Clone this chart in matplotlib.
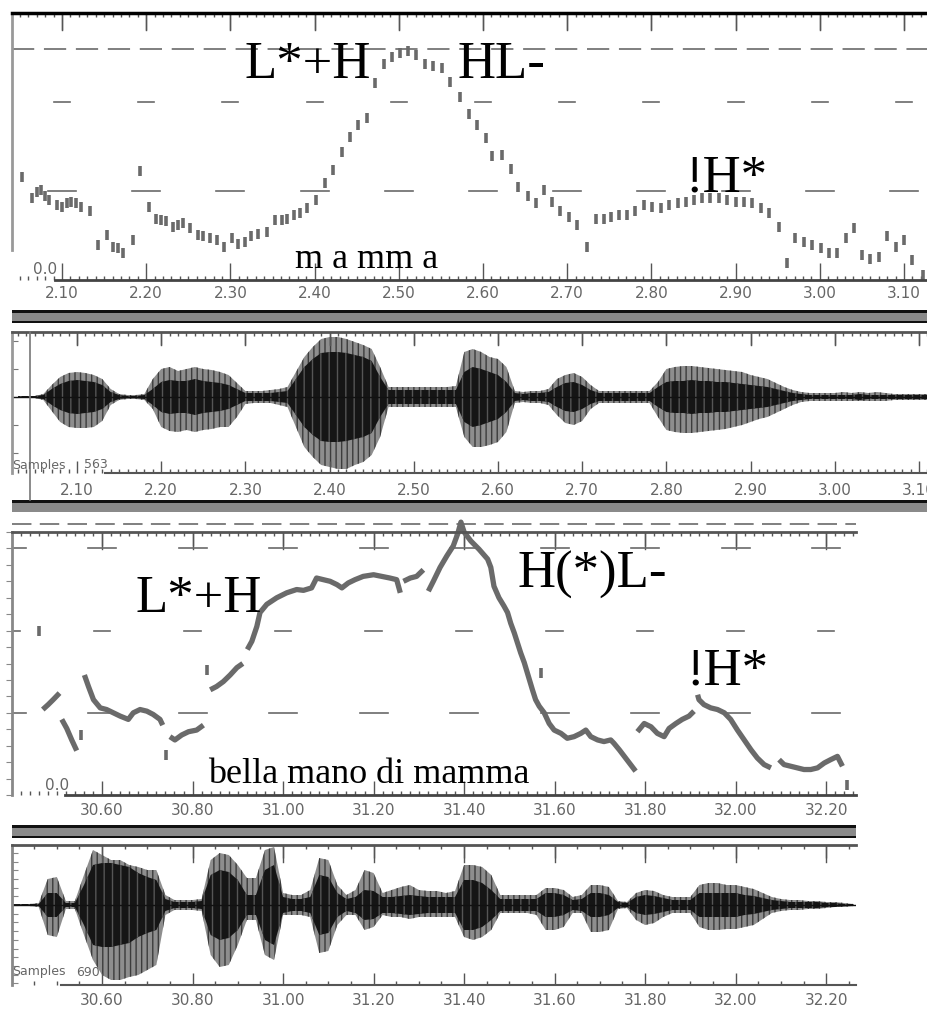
import numpy as np
import matplotlib.pyplot as plt
from matplotlib.patches import Rectangle
from matplotlib.ticker import MultipleLocator

plt.rcParams['lines.scale_dashes'] = False
nan = np.nan

# ---- upper utterance: "m a mm a" ----
p1_time = [2.053, 2.064, 2.070, 2.075, 2.080, 2.085, 2.094, 2.100, 2.106, 2.111, 2.117, 2.123, 2.133,
           2.143, 2.154, 2.161, 2.167, 2.173, 2.184, 2.193, 2.203,
           2.212, 2.218, 2.224, 2.232, 2.238, 2.244, 2.252, 2.262, 2.268, 2.276, 2.284, 2.292, 2.302, 2.309, 2.317, 2.325, 2.333, 2.343,
           2.353, 2.361, 2.367, 2.375, 2.383, 2.391, 2.402, 2.412, 2.422, 2.432, 2.442, 2.452, 2.462, 2.472, 2.482, 2.492, 2.501, 2.511, 2.521, 2.531, 2.541, 2.551, 2.561, 2.573,
           2.583, 2.593, 2.603, 2.611, 2.623, 2.633, 2.641, 2.653, 2.663, 2.672, 2.682, 2.692, 2.702, 2.712, 2.723,
           2.734, 2.744, 2.752, 2.762, 2.771, 2.781, 2.791, 2.801, 2.811, 2.821, 2.831, 2.841, 2.851, 2.860, 2.870, 2.880, 2.890, 2.900, 2.910, 2.920, 2.930, 2.940,
           2.952, 2.961, 2.971, 2.981, 2.991, 3.001, 3.011, 3.021, 3.031, 3.041, 3.050, 3.060, 3.070, 3.080, 3.090, 3.100, 3.110, 3.122]
p1_hz = [116, 92, 99, 101, 94, 90, 84, 82, 86, 88, 86, 82, 77,
         39, 51, 37, 36, 30, 45, 122, 82,
         69, 67, 66, 60, 62, 64, 58, 51, 49, 47, 45, 37, 47, 41, 43, 49, 52, 54,
         67, 67, 69, 73, 75, 81, 90, 109, 124, 144, 161, 174, 182, 221, 243, 251, 255, 257, 253, 243, 240, 238, 223, 206,
         187, 174, 159, 139, 140, 125, 105, 94, 86, 101, 88, 77, 71, 62, 37,
         69, 69, 71, 73, 73, 77, 84, 82, 81, 84, 86, 88, 90, 92, 92, 92, 90, 88, 88, 86, 81, 75,
         60, 19, 47, 43, 39, 36, 30, 30, 47, 58, 28, 24, 26, 49, 37, 45, 22, 6]

w1_time = np.round(np.arange(2.03, 3.115, 0.01), 2)
w1_up = [1, 1, 1, 3, 12, 20, 24, 25, 24, 22,
         18, 8, 3, 2, 2, 3, 18, 28, 30, 26,
         28, 30, 28, 27, 25, 22, 14, 6, 6, 6,
         7, 8, 10, 25, 40, 50, 58, 60, 60, 58,
         55, 52, 48, 30, 10, 10, 10, 10, 10, 10,
         10, 10, 11, 45, 48, 45, 40, 38, 30, 6,
         5, 6, 6, 8, 18, 22, 24, 20, 12, 6,
         6, 6, 6, 6, 6, 6, 15, 28, 30, 31,
         31, 30, 29, 28, 27, 26, 25, 22, 20, 18,
         14, 10, 7, 5, 4, 4, 4, 4, 5, 4,
         5, 4, 5, 4, 3, 3, 3, 3, 3]
w1_dn = [1, 1, 1, 3, 14, 25, 30, 31, 31, 30,
         24, 8, 3, 2, 2, 3, 12, 30, 34, 35,
         33, 35, 33, 32, 30, 30, 20, 7, 6, 6,
         6, 8, 10, 30, 50, 60, 68, 70, 72, 72,
         68, 65, 58, 40, 10, 10, 10, 10, 10, 10,
         10, 10, 10, 40, 50, 50, 48, 45, 35, 6,
         5, 6, 6, 8, 18, 26, 28, 24, 12, 6,
         6, 6, 6, 6, 6, 6, 20, 33, 35, 36,
         36, 35, 34, 33, 32, 30, 28, 25, 22, 20,
         16, 12, 8, 5, 4, 4, 4, 4, 4, 4,
         4, 4, 4, 4, 3, 3, 3, 3, 3]
w1_in = [1, 1, 1, 2, 8, 13, 16, 17, 16, 15,
         12, 5, 2, 1, 1, 2, 8, 15, 17, 16,
         16, 18, 16, 15, 14, 12, 8, 4, 4, 4,
         4, 5, 6, 18, 30, 38, 44, 45, 45, 44,
         42, 40, 36, 20, 7, 7, 7, 7, 7, 7,
         7, 7, 7, 25, 30, 28, 25, 22, 15, 4,
         3, 4, 4, 5, 10, 14, 15, 12, 7, 4,
         4, 4, 4, 4, 4, 4, 10, 15, 16, 16,
         17, 16, 16, 15, 15, 14, 13, 12, 11, 10,
         8, 6, 4, 3, 2, 2, 2, 2, 2, 2,
         3, 2, 2, 2, 2, 2, 2, 2, 2]
top_ticks = [2.10, 2.20, 2.30, 2.40, 2.50, 2.60, 2.70, 2.80, 2.90, 3.00, 3.10]
top_labels = ['2.10', '2.20', '2.30', '2.40', '2.50', '2.60', '2.70', '2.80', '2.90', '3.00', '3.10']

# ---- lower utterance: "bella mano di mamma" ----
p2_time = [30.469, 30.481, 30.492, 30.506, nan,
           30.511, 30.522, 30.533, 30.544, nan,
           30.561, 30.570, 30.581, 30.596, 30.610, 30.625, 30.640, 30.658, 30.669, 30.684, 30.699, 30.713, 30.728, 30.734, nan,
           30.750, 30.761, 30.776, 30.791, 30.809, 30.824, nan,
           30.839, 30.853, 30.868, 30.883, 30.898, 30.911, nan,
           30.921, 30.931, 30.942, 30.949, 30.964, 30.986, 31.008, 31.030, 31.045, 31.063, 31.074, 31.089, 31.104,
           31.119, 31.130, 31.144, 31.159, 31.177, 31.200, 31.218, 31.236, 31.251, 31.259, nan,
           31.266, 31.281, 31.295, 31.310, nan,
           31.321, 31.332, 31.347, 31.362, 31.376, 31.386, 31.393, 31.400, 31.415, 31.433, 31.452, 31.459, 31.466,
           31.477, 31.488, 31.496, 31.503, 31.511, 31.518, 31.525, 31.533, 31.540, 31.551, 31.558, 31.566, 31.577,
           31.588, 31.599, 31.614, 31.628, 31.643, 31.658, 31.669, 31.680, 31.695, 31.709, 31.724, 31.731, 31.743,
           31.754, 31.768, 31.779, nan,
           31.783, 31.798, 31.813, 31.827, 31.842, 31.853, 31.868, 31.882, 31.897, 31.908, nan,
           31.916, 31.919, 31.930, 31.945, 31.960, 31.975, 31.989, 32.004, 32.019, 32.034, 32.048, 32.063, 32.078, nan,
           32.096, 32.107, 32.122, 32.137, 32.151, 32.166, 32.181, 32.196, 32.210, 32.225, 32.236]
p2_hz = [104, 110, 116, 124, nan,
         92, 81, 67, 54, nan,
         146, 132, 116, 106, 104, 100, 96, 92, 100, 104, 102, 98, 92, 85, nan,
         71, 67, 73, 77, 79, 85, nan,
         128, 132, 138, 146, 155, 160, nan,
         177, 187, 205, 222, 232, 240, 246, 250, 249, 252, 264, 262, 260,
         256, 252, 258, 262, 266, 268, 266, 264, 262, 246, nan,
         260, 264, 266, 274, nan,
         248, 260, 277, 291, 303, 318, 332, 320, 309, 299, 287, 277, 254,
         240, 230, 222, 209, 197, 185, 173, 161, 148, 128, 116, 108, 100,
         87, 79, 75, 69, 71, 75, 79, 71, 67, 65, 67, 63, 55,
         47, 37, 29, nan,
         77, 87, 83, 75, 71, 81, 87, 92, 96, 102, nan,
         122, 116, 110, 106, 104, 100, 92, 79, 67, 55, 45, 37, 33, nan,
         43, 37, 35, 33, 31, 31, 33, 39, 43, 47, 35]
p2_dot_time = [30.461, 30.554, 30.741, 30.831, 31.569, 32.247]
p2_dot_hz = [199, 73, 49, 152, 148, 12]

w2_time = np.round(np.arange(30.40, 32.261, 0.02), 2)
w2_up = [1, 1, 1, 2, 26, 28, 4, 4, 30, 55,
         50, 45, 45, 40, 38, 35, 35, 10, 5, 5,
         5, 6, 45, 52, 50, 40, 27, 27, 55, 58,
         12, 10, 10, 15, 47, 45, 20, 10, 15, 35,
         32, 12, 15, 18, 20, 15, 14, 14, 12, 14,
         40, 40, 38, 30, 10, 10, 10, 10, 10, 17,
         17, 15, 8, 10, 20, 20, 18, 4, 3, 12,
         15, 14, 10, 8, 8, 8, 20, 22, 22, 20,
         20, 18, 16, 12, 8, 6, 5, 5, 4, 4,
         3, 3, 2, 1]
w2_dn = [1, 1, 1, 2, 30, 32, 4, 4, 30, 55,
         70, 75, 75, 72, 70, 65, 60, 10, 5, 5,
         5, 6, 50, 62, 60, 40, 15, 15, 50, 55,
         10, 10, 10, 12, 48, 46, 20, 10, 10, 25,
         22, 10, 12, 12, 14, 12, 12, 12, 12, 12,
         32, 35, 32, 25, 8, 8, 8, 8, 10, 25,
         25, 22, 8, 8, 27, 27, 25, 4, 3, 15,
         20, 18, 12, 8, 8, 8, 22, 25, 25, 24,
         24, 22, 20, 14, 8, 6, 5, 5, 4, 4,
         3, 2, 2, 1]
w2_in = [1, 1, 1, 1, 12, 12, 2, 2, 20, 40,
         42, 42, 40, 38, 32, 28, 25, 6, 3, 3,
         3, 4, 30, 35, 33, 25, 10, 10, 35, 40,
         8, 6, 6, 8, 30, 28, 12, 6, 8, 15,
         14, 8, 8, 9, 10, 9, 8, 8, 8, 8,
         25, 25, 22, 15, 6, 6, 6, 6, 6, 12,
         12, 10, 5, 6, 12, 12, 10, 3, 2, 8,
         10, 9, 7, 5, 5, 5, 12, 12, 12, 12,
         12, 10, 9, 7, 5, 4, 3, 3, 3, 3,
         2, 2, 1, 1]
bot_ticks = [30.60, 30.80, 31.00, 31.20, 31.40, 31.60, 31.80, 32.00, 32.20]
bot_labels = ['30.60', '30.80', '31.00', '31.20', '31.40', '31.60', '31.80', '32.00', '32.20']

W, H = 928, 1011
fig = plt.figure(figsize=(W / 100, H / 100), dpi=100)
fig.patch.set_facecolor('white')


def box(x0, y0, x1, y1):
    return [x0 / W, 1 - y1 / H, (x1 - x0) / W, (y1 - y0) / H]


tick_font = dict(family=['DejaVu Sans'], size=11, color='#666666')
small_font = dict(family=['DejaVu Sans'], size=9, color='#666666')
serif = ['Liberation Serif', 'DejaVu Serif']
pitch_col = '#6a6a6a'
grid_col = '#6a6a6a'


def time_axis(ax, ticks, labels, minor, top_len, bot_len, pad):
    ax.set_xticks(ticks)
    ax.set_xticklabels(labels, **tick_font)
    ax.xaxis.set_minor_locator(MultipleLocator(minor))
    ax.tick_params(axis='x', which='both', direction='in', top=True, bottom=True,
                   color='#555555', width=1, pad=pad)
    ax.tick_params(axis='x', which='major', length=bot_len)
    ax.tick_params(axis='x', which='minor', length=3)
    for t in ticks:
        ax.plot([t, t], [1, 1 - top_len], transform=ax.get_xaxis_transform(),
                color='#555555', lw=1)


def wave(ax, t, up, dn, inner):
    up, dn, inner = np.array(up), np.array(dn), np.array(inner)
    ax.fill_between(t, -dn, up, facecolor='#8e8e8e', edgecolor='#3c3c3c',
                    hatch='|||', linewidth=0)
    ax.fill_between(t, -inner, inner, facecolor='#151515', edgecolor='#555555',
                    hatch='||', linewidth=0)
    ax.axhline(0, color='#111111', lw=1)


def band(x0, y0, x1, y1, top_only=False):
    fig.add_artist(Rectangle((x0 / W, 1 - y1 / H), (x1 - x0) / W, (y1 - y0) / H,
                             transform=fig.transFigure, facecolor='#8a8a8a', edgecolor='none'))
    fig.add_artist(Rectangle((x0 / W, 1 - (y0 + 2.5) / H), (x1 - x0) / W, 2.5 / H,
                             transform=fig.transFigure, facecolor='#111111', edgecolor='none'))
    if not top_only:
        fig.add_artist(Rectangle((x0 / W, 1 - y1 / H), (x1 - x0) / W, 2.5 / H,
                                 transform=fig.transFigure, facecolor='#111111', edgecolor='none'))


# ---------- panel 1: pitch of "m a mm a" ----------
ax1 = fig.add_axes(box(12, 13, 928, 280))
ax1.set_xlim(2.0406, 3.1285)
ax1.set_ylim(0, 300)
ax1.set_yticks([])
ax1.spines['right'].set_visible(False)
ax1.spines['top'].set_linewidth(2.5)
ax1.spines['bottom'].set_color('#444444')
ax1.spines['bottom'].set_linewidth(2)
ax1.spines['bottom'].set_bounds(2.0917, 3.1285)
ax1.spines['left'].set_color('#999999')
ax1.spines['left'].set_linewidth(2)
ax1.spines['left'].set_bounds(34, 300)
time_axis(ax1, top_ticks, top_labels, 0.01, 0.065, 12, 4)

ax1.plot([2.0406, 3.1285], [260, 260], color=grid_col, lw=1.2, dashes=(16, 7))
for t in top_ticks:
    ax1.plot([t - 0.0095, t + 0.0095], [200, 200], color=grid_col, lw=1.2)
    ax1.plot([t - 0.0166, t + 0.0166], [100, 100], color=grid_col, lw=1.2)

ax1.plot(p1_time, p1_hz, ls='none', marker='|', ms=7, mew=2.6, color=pitch_col)

ax1.text(2.317, 227, 'L*+H', family=serif, fontsize=38)
ax1.text(2.570, 227, 'HL-', family=serif, fontsize=38)
ax1.text(2.840, 99, '!H*', family=serif, fontsize=38)
ax1.text(2.377, 14, 'm a mm a', family=serif, fontsize=26)
fig.text(33 / W, 1 - 270 / H, '0.0', va='center', **tick_font)

band(12, 310, 928, 323)

# ---------- panel 2: waveform of "m a mm a" ----------
aw1 = fig.add_axes(box(12, 332, 928, 473))
aw1.set_xlim(2.0228, 3.1107)
aw1.set_ylim(-76, 65)
aw1.spines['right'].set_visible(False)
aw1.spines['top'].set_color('#555555')
aw1.spines['top'].set_linewidth(2)
aw1.spines['bottom'].set_color('#555555')
aw1.spines['bottom'].set_linewidth(1.5)
aw1.spines['bottom'].set_bounds(2.133, 3.1107)
aw1.spines['left'].set_color('#999999')
aw1.spines['left'].set_linewidth(2)
aw1.set_yticks([-56, -28, 0, 28, 56])
aw1.set_yticklabels([])
aw1.tick_params(axis='y', direction='in', length=4, color='#777777')
time_axis(aw1, top_ticks, top_labels, 0.01, 0.09, 9, 7)
wave(aw1, w1_time, w1_up, w1_dn, w1_in)
fig.add_artist(plt.Line2D([30 / W, 30 / W], [1 - 332 / H, 1 - 500 / H], color='#777777', lw=1.2))
fig.text(12 / W, 1 - 465 / H, 'Samples', va='center', **small_font)
fig.text(84 / W, 1 - 465 / H, '563', va='center', **small_font)

band(12, 500, 928, 512, top_only=True)

# ---------- panel 3: pitch of "bella mano di mamma" ----------
ax2 = fig.add_axes(box(12, 532, 856, 795))
ax2.set_xlim(30.401, 32.266)
ax2.set_ylim(0, 320)
ax2.spines['right'].set_visible(False)
ax2.spines['top'].set_color('#555555')
ax2.spines['top'].set_linewidth(2)
ax2.spines['bottom'].set_color('#444444')
ax2.spines['bottom'].set_linewidth(2)
ax2.spines['bottom'].set_bounds(30.518, 32.266)
ax2.spines['left'].set_color('#888888')
ax2.spines['left'].set_linewidth(2)
ax2.yaxis.set_major_locator(MultipleLocator(20))
ax2.set_yticklabels([])
ax2.tick_params(axis='y', direction='out', length=4, color='#888888')
time_axis(ax2, bot_ticks, bot_labels, 0.02, 0.065, 10, 6)

ax2.plot([30.401, 32.266], [330, 330], color=grid_col, lw=1.2, dashes=(14, 6), clip_on=False)
for t in [30.40] + bot_ticks:
    ax2.plot([t - 0.031, t + 0.031], [300, 300], color=grid_col, lw=1.2)
    ax2.plot([t - 0.018, t + 0.018], [200, 200], color=grid_col, lw=1.2)
    ax2.plot([t - 0.031, t + 0.031], [100, 100], color=grid_col, lw=1.2)

ax2.plot(p2_time, p2_hz, color=pitch_col, lw=3.8, solid_capstyle='butt', clip_on=False)
ax2.plot(p2_dot_time, p2_dot_hz, ls='none', marker='|', ms=7, mew=2.6, color=pitch_col)

ax2.text(30.673, 223, 'L*+H', family=serif, fontsize=38)
ax2.text(31.517, 252, 'H(*)L-', family=serif, fontsize=38)
ax2.text(31.891, 134, '!H*', family=serif, fontsize=38)
ax2.text(30.834, 14, 'bella mano di mamma', family=serif, fontsize=26)
fig.text(45 / W, 1 - 786 / H, '0.0', va='center', **tick_font)

band(12, 825, 856, 838)

# ---------- panel 4: waveform of "bella mano di mamma" ----------
aw2 = fig.add_axes(box(12, 845, 856, 985))
aw2.set_xlim(30.401, 32.266)
aw2.set_ylim(-80, 60)
aw2.spines['right'].set_visible(False)
aw2.spines['top'].set_color('#555555')
aw2.spines['top'].set_linewidth(2)
aw2.spines['bottom'].set_color('#555555')
aw2.spines['bottom'].set_linewidth(1.5)
aw2.spines['bottom'].set_bounds(30.51, 32.266)
aw2.spines['left'].set_color('#888888')
aw2.spines['left'].set_linewidth(2)
aw2.yaxis.set_major_locator(MultipleLocator(8.7))
aw2.set_yticklabels([])
aw2.tick_params(axis='y', direction='in', length=4, color='#888888')
time_axis(aw2, bot_ticks, bot_labels, 0.05, 0.12, 9, 6)
wave(aw2, w2_time, w2_up, w2_dn, w2_in)
fig.text(12 / W, 1 - 972 / H, 'Samples', va='center', **small_font)
fig.text(76 / W, 1 - 972 / H, '690', va='center', **small_font)

fig.savefig('out.png', dpi=100, facecolor='white')
